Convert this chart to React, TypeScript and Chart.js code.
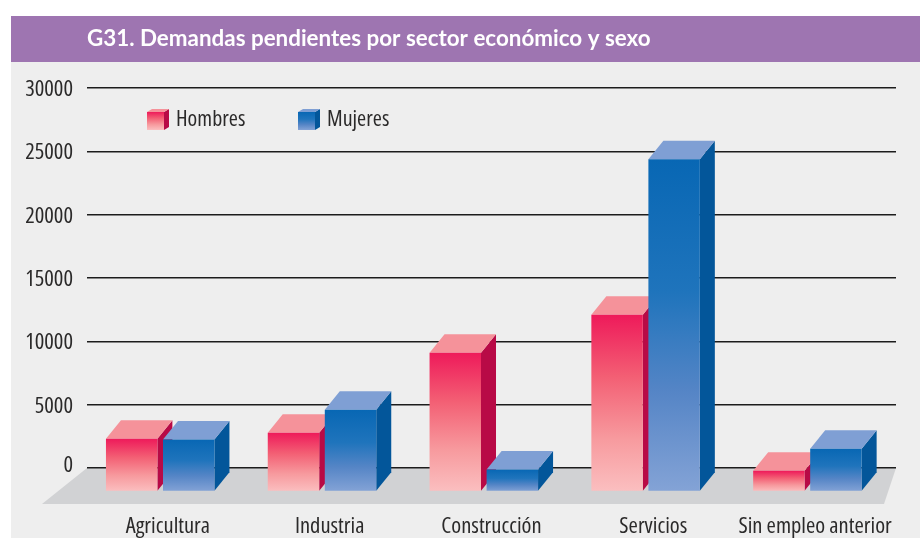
import React, { useEffect, useRef } from "react";
import { Chart, registerables } from "chart.js";

Chart.register(...registerables);

const chartTitle = "G31. Demandas pendientes por sector económico y sexo";
const categories = ["Agricultura", "Industria", "Construcción", "Servicios", "Sin empleo anterior"];
const hombres = [4160, 4630, 10950, 13950, 1630];
const mujeres = [4100, 6450, 1740, 26230, 3370];

const FONT = '"Open Sans", "Liberation Sans", sans-serif';
const TITLE_FONT = 'Lato, "Open Sans", sans-serif';
const TEXT = "#2b2a2a";

// 3D projection used to draw the boxes
const SHIFT_X = -7.7;
const SHIFT_Y = 23.5;
const DEPTH_X = 15;
const DEPTH_Y = 18.5;

type Palette = { top: string; side: string; stops: [number, string][] };
const RED: Palette = {
  top: "#f5929a",
  side: "#b80a46",
  stops: [[0, "#ee1a5a"], [0.35, "#f35f74"], [0.7, "#f79a9e"], [1, "#fbbfc0"]],
};
const BLUE: Palette = {
  top: "#7f9fd4",
  side: "#03569a",
  stops: [[0, "#0867b4"], [0.4, "#1f74bc"], [0.7, "#5585c6"], [1, "#84a3d6"]],
};

function frontFill(p: Palette) {
  return (c: any) => {
    const chart = c.chart;
    if (!chart.chartArea || c.parsed === undefined || c.parsed.y === undefined) return p.stops[0][1];
    const y = chart.scales.y;
    const g = chart.ctx.createLinearGradient(0, y.getPixelForValue(c.parsed.y), 0, y.getPixelForValue(0));
    p.stops.forEach(([o, col]) => g.addColorStop(o, col));
    return g;
  };
}

function drawFaces(ctx: CanvasRenderingContext2D, l: number, r: number, t: number, b: number, dx: number, dy: number, p: Palette) {
  ctx.fillStyle = p.side;
  ctx.beginPath();
  ctx.moveTo(r, t);
  ctx.lineTo(r + dx, t - dy);
  ctx.lineTo(r + dx, b - dy);
  ctx.lineTo(r, b);
  ctx.closePath();
  ctx.fill();
  ctx.fillStyle = p.top;
  ctx.beginPath();
  ctx.moveTo(l, t);
  ctx.lineTo(l + dx, t - dy);
  ctx.lineTo(r + dx, t - dy);
  ctx.lineTo(r, t);
  ctx.closePath();
  ctx.fill();
}

const palettes = [RED, BLUE];

function drawBoxFaces(chart: any, index: number) {
  const meta = chart.getDatasetMeta(index);
  meta.data.forEach((el: any) => {
    const { x, y, base, width } = el.getProps(["x", "y", "base", "width"], true);
    drawFaces(chart.ctx, x - width / 2, x + width / 2, y, base, DEPTH_X, DEPTH_Y, palettes[index]);
  });
}

const scenePlugin = {
  id: "scene",
  beforeDraw(chart: any) {
    const { ctx, width, height, chartArea: a } = chart;
    ctx.save();
    ctx.fillStyle = "#ffffff";
    ctx.fillRect(0, 0, width, height);
    ctx.fillStyle = "#eeeeee";
    ctx.fillRect(11, 62, width - 11, height - 62);
    ctx.fillStyle = "#9e75b1";
    ctx.fillRect(11, 16, width - 11, 46);
    // floor
    ctx.fillStyle = "#d1d2d4";
    ctx.beginPath();
    ctx.moveTo(a.left, a.bottom);
    ctx.lineTo(a.right, a.bottom);
    ctx.lineTo(a.right - 12, a.bottom + 36);
    ctx.lineTo(a.left - 45, a.bottom + 36);
    ctx.closePath();
    ctx.fill();
    ctx.restore();
    // the zero label sits a little above its grid line
    const items = chart.scales.y.getLabelItems();
    items.forEach((it: any) => {
      if (it.shifted) return;
      it.shifted = true;
      if (it.label === "0") it.options.translation[1] -= 2.5;
      else it.options.translation[1] += 1.5;
    });
  },
  // Hombres stays first in the group but is painted behind Mujeres
  beforeDatasetsDraw(chart: any) {
    const { ctx } = chart;
    ctx.save();
    ctx.translate(SHIFT_X, SHIFT_Y);
    drawBoxFaces(chart, 0);
    chart.getDatasetMeta(0).controller.draw();
    ctx.restore();
  },
  beforeDatasetDraw(chart: any, args: any) {
    if (args.index === 0) return false;
    const { ctx } = chart;
    ctx.save();
    ctx.translate(SHIFT_X, SHIFT_Y);
    drawBoxFaces(chart, args.index);
    return true;
  },
  afterDatasetDraw(chart: any) {
    chart.ctx.restore();
  },
  afterDraw(chart: any) {
    const { ctx } = chart;
    const names = chart.data.datasets.map((d: any) => d.label);
    const xs = [147, 298];
    ctx.save();
    names.forEach((name: string, i: number) => {
      const x = xs[i];
      const p = palettes[i];
      const g = ctx.createLinearGradient(0, 112, 0, 130);
      p.stops.forEach(([o, col]) => g.addColorStop(o, col));
      drawFaces(ctx, x, x + 17, 112, 130, 5, 3, p);
      ctx.fillStyle = g;
      ctx.fillRect(x, 112, 17, 18);
      ctx.fillStyle = TEXT;
      ctx.font = `condensed 22px ${FONT}`;
      ctx.textAlign = "left";
      ctx.textBaseline = "middle";
      ctx.fillText(name, x + 29, 120);
    });
    ctx.restore();
  },
};

export default function App() {
  const ref = useRef<HTMLCanvasElement>(null);
  useEffect(() => {
    document.body.style.margin = "0";
    const tickFont = { family: FONT, size: 22.5, weight: "condensed" };
    const chart = new Chart(ref.current as HTMLCanvasElement, {
      type: "bar",
      data: {
        labels: categories,
        datasets: [
          { label: "Hombres", data: hombres, backgroundColor: frontFill(RED), clip: false },
          { label: "Mujeres", data: mujeres, backgroundColor: frontFill(BLUE), clip: false },
        ],
      } as any,
      options: {
        responsive: false,
        animation: false,
        layout: { autoPadding: false, padding: { left: 0, right: 24, top: 0, bottom: 0 } },
        datasets: { bar: { categoryPercentage: 0.705, barPercentage: 0.902 } },
        plugins: {
          legend: { display: false },
          tooltip: { enabled: false },
          title: {
            display: true,
            text: chartTitle,
            align: "start",
            fullSize: false,
            color: "#ffffff",
            font: { family: TITLE_FONT, size: 22.4, weight: "bold", lineHeight: 1.2 },
            padding: { top: 25.5, bottom: 35.6 },
          },
        },
        scales: {
          x: {
            grid: { display: false, drawTicks: false },
            border: { display: false },
            afterFit(s: any) { s.height = 70; s.paddingLeft = 0; s.paddingRight = 0; },
            ticks: {
              color: TEXT,
              font: tickFont,
              padding: 45.5,
              maxRotation: 0,
              minRotation: 0,
              autoSkip: false,
            },
          },
          y: {
            min: 0,
            max: 30000,
            afterFit(s: any) { s.width = 87; },
            grid: { color: "#1c1c1c", lineWidth: 1.4, drawTicks: false },
            border: { display: false },
            ticks: {
              stepSize: 5000,
              color: TEXT,
              font: tickFont,
              padding: 14,
              callback: (v: any) => String(v),
            },
          },
        },
      } as any,
      plugins: [scenePlugin as any],
    });
    return () => chart.destroy();
  }, []);
  return <canvas ref={ref} width={920} height={538} style={{ display: "block" }} />;
}
